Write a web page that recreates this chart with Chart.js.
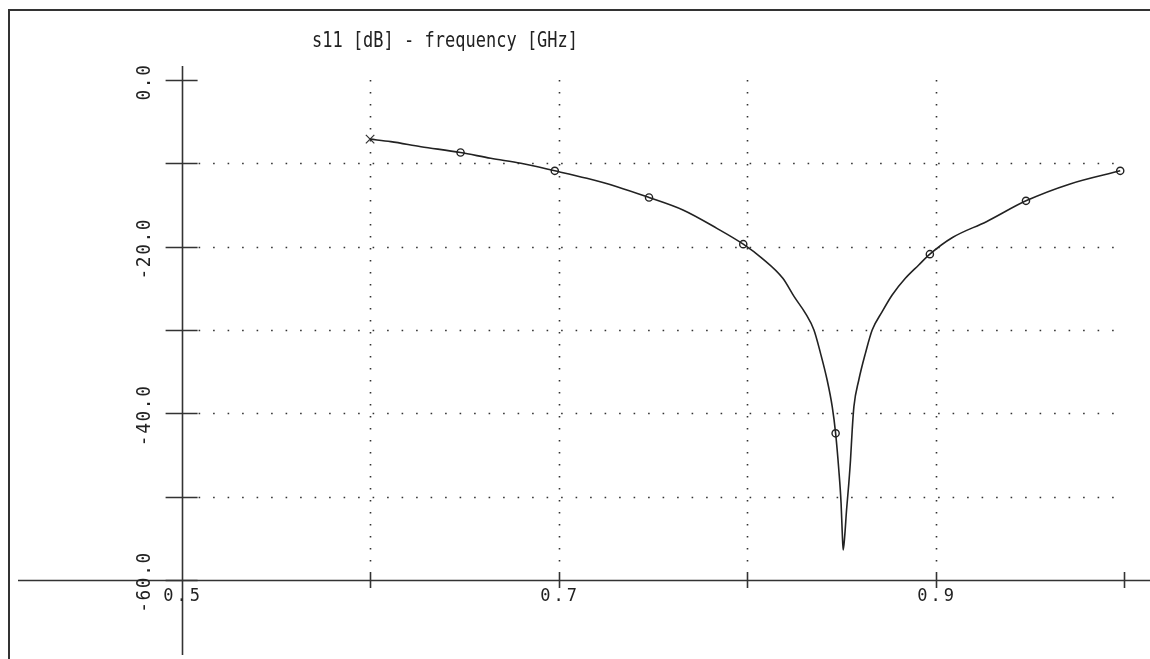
<!DOCTYPE html>
<html>
<head>
<meta charset="utf-8">
<title>s11 [dB] - frequency [GHz]</title>
<script src="https://cdn.jsdelivr.net/npm/chart.js@4.4.0/dist/chart.umd.min.js"></script>
<style>
  html, body { margin: 0; padding: 0; background: #fff; overflow: hidden; }
  canvas { display: block; }
</style>
</head>
<body>
<canvas id="chart" width="1150" height="659"></canvas>
<script>
// s11 curve (GHz, dB)
const freq = [0.600, 0.611, 0.627, 0.648, 0.664, 0.680, 0.698, 0.715, 0.731, 0.748,
  0.766, 0.784, 0.798, 0.808, 0.819, 0.825, 0.831, 0.8355, 0.839, 0.8425,
  0.8452, 0.847, 0.8487, 0.8499, 0.8505, 0.851, 0.8518, 0.8528, 0.854, 0.8549,
  0.8558, 0.8567, 0.8593, 0.8628, 0.8664, 0.8717, 0.877, 0.884, 0.8911, 0.897,
  0.909, 0.927, 0.948, 0.971, 0.998];
const s11 = [-7.1, -7.4, -8.0, -8.7, -9.4, -10.0, -10.9, -11.8, -12.8, -14.1,
  -15.6, -17.8, -19.7, -21.4, -23.8, -26.0, -28.0, -30.0, -32.8, -36.0,
  -39.2, -42.4, -46.8, -50.8, -54.2, -56.4, -54.8, -51.6, -48.4, -45.6,
  -42.0, -39.2, -36.0, -32.8, -30.0, -27.8, -25.8, -23.8, -22.2, -20.9,
  -18.9, -17.0, -14.5, -12.5, -10.9];

// circle markers along the sweep
const markerFreq = [0.648, 0.698, 0.748, 0.798, 0.847, 0.897, 0.948, 0.998];
const markerS11 = [-8.7, -10.9, -14.1, -19.7, -42.4, -20.9, -14.5, -10.9];

// start of sweep (cross)
const startFreq = [0.6];
const startS11 = [-7.1];

// axes
const xTicks = [0.6, 0.7, 0.8, 0.9, 1.0];
const xGrid = [0.6, 0.7, 0.8, 0.9];
const xLabels = ['0.5', '0.7', '0.9'];
const yTicks = [0, -10, -20, -30, -40, -50, -60];
const yGrid = [-10, -20, -30, -40, -50];
const yLabels = ['0.0', '-20.0', '-40.0', '-60.0'];
const xOrigin = 0.5, yOrigin = -60;
const title = 's11 [dB] - frequency [GHz]';

const toXY = (xs, ys) => xs.map((v, i) => ({x: v, y: ys[i]}));

const FONT = '"DejaVu Sans Mono", "Liberation Mono", monospace';

const crossAxes = {
  id: 'crossAxes',
  beforeDatasetsDraw(chart) {
    const {ctx, scales: {x, y}} = chart;
    const x0 = x.getPixelForValue(xOrigin);
    const y0 = y.getPixelForValue(yOrigin);
    const xEnd = x.getPixelForValue(1.0);
    const yTop = y.getPixelForValue(0);
    const line = (a, b, c, d) => { ctx.beginPath(); ctx.moveTo(a, b); ctx.lineTo(c, d); ctx.stroke(); };
    ctx.save();

    // outer frame
    ctx.strokeStyle = '#333';
    ctx.lineWidth = 2;
    ctx.strokeRect(9, 10, 1300, 800);

    // dotted grid
    ctx.strokeStyle = '#333';
    ctx.lineWidth = 1.6;
    ctx.setLineDash([1.6, 12.9]);
    yGrid.forEach(v => {
      const py = Math.round(y.getPixelForValue(v)) + 0.5;
      line(x0 + 17, py, xEnd + 2, py);
    });
    ctx.setLineDash([1.6, 10.4]);
    xGrid.forEach(v => {
      const px = Math.round(x.getPixelForValue(v)) + 0.5;
      line(px, yTop, px, y0 - 8);
    });
    ctx.setLineDash([]);

    // axis lines
    ctx.strokeStyle = '#333';
    ctx.lineWidth = 1.6;
    line(chart.chartArea.left, Math.round(y0) + 0.5, chart.chartArea.right, Math.round(y0) + 0.5);
    line(Math.round(x0) + 0.5, chart.chartArea.top, Math.round(x0) + 0.5, chart.chartArea.bottom);

    // tick marks
    yTicks.forEach(v => {
      const py = Math.round(y.getPixelForValue(v)) + 0.5;
      line(x0 - 16, py, x0 + 16, py);
    });
    xTicks.forEach(v => {
      const px = Math.round(x.getPixelForValue(v)) + 0.5;
      line(px, y0 - 8, px, y0 + 8);
    });

    // labels
    ctx.fillStyle = '#222';
    ctx.font = '17px ' + FONT;
    ctx.textAlign = 'center';
    ctx.textBaseline = 'middle';
    ctx.letterSpacing = '3px';
    xLabels.forEach(t => {
      ctx.fillText(t, x.getPixelForValue(parseFloat(t)) + 1.5, y0 + 17);
    });
    ctx.letterSpacing = '1.5px';
    yLabels.forEach(t => {
      ctx.save();
      ctx.translate(x0 - 37, y.getPixelForValue(parseFloat(t)) + 2);
      ctx.rotate(-Math.PI / 2);
      ctx.scale(1.05, 1.15);
      ctx.fillText(t, 0, 0);
      ctx.restore();
    });

    // title
    ctx.letterSpacing = '0px';
    ctx.font = '17px ' + FONT;
    ctx.save();
    ctx.translate(445, 42);
    ctx.scale(1, 1.2);
    ctx.fillText(title, 0, 0);
    ctx.restore();
    ctx.restore();
  }
};

new Chart(document.getElementById('chart'), {
  type: 'scatter',
  data: {
    datasets: [
      {
        data: toXY(freq, s11),
        showLine: true,
        borderColor: '#222',
        borderWidth: 1.6,
        cubicInterpolationMode: 'monotone',
        pointRadius: 0
      },
      {
        data: toXY(markerFreq, markerS11),
        showLine: false,
        pointStyle: 'circle',
        pointRadius: 3.6,
        borderColor: '#222',
        borderWidth: 1.4,
        backgroundColor: 'rgba(0,0,0,0)'
      },
      {
        data: toXY(startFreq, startS11),
        showLine: false,
        pointStyle: 'crossRot',
        pointRadius: 6,
        borderColor: '#333',
        borderWidth: 1.2
      }
    ]
  },
  options: {
    responsive: false,
    animation: false,
    layout: { autoPadding: false, padding: { left: 18, right: 0, top: 66, bottom: 4 } },
    scales: {
      x: { type: 'linear', min: 0.4132, max: 1.0138, display: false },
      y: { type: 'linear', min: -69.0, max: 1.68, display: false }
    },
    plugins: {
      legend: { display: false },
      tooltip: { enabled: false },
      title: { display: false }
    }
  },
  plugins: [crossAxes]
});
</script>
</body>
</html>
